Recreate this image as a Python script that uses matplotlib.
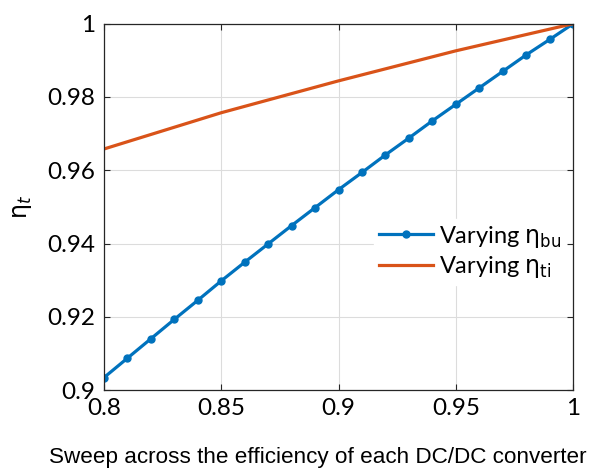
import numpy as np
import matplotlib
matplotlib.use("Agg")
import matplotlib.pyplot as plt

# ── Data ──────────────────────────────────────────────────────────────────────

eff_bu = [0.80, 0.81, 0.82, 0.83, 0.84, 0.85, 0.86, 0.87, 0.88, 0.89, 0.90,
          0.91, 0.92, 0.93, 0.94, 0.95, 0.96, 0.97, 0.98, 0.99, 1.00]
eta_t_bu = [0.9034, 0.9087, 0.9140, 0.9193, 0.9245, 0.9298, 0.9349, 0.9399,
            0.9449, 0.9498, 0.9547, 0.9594, 0.9642, 0.9688, 0.9735, 0.9780,
            0.9825, 0.9870, 0.9915, 0.9957, 1.0000]

eff_ti = [0.80, 0.85, 0.90, 0.95, 1.00]
eta_t_ti = [0.9658, 0.9757, 0.9844, 0.9926, 1.0000]

xticks = [0.8, 0.85, 0.9, 0.95, 1]
xticklabels = ["0.8", "0.85", "0.9", "0.95", "1"]
yticks = [0.9, 0.92, 0.94, 0.96, 0.98, 1]
yticklabels = ["0.9", "0.92", "0.94", "0.96", "0.98", "1"]

BLUE = "#0072BD"
ORANGE = "#D95319"

plt.rcParams.update({
    "font.family": ["Lato", "DejaVu Sans"],
    "mathtext.fontset": "dejavusans",
})

# ── Figure ────────────────────────────────────────────────────────────────────

fig = plt.figure(figsize=(6.04, 4.74), dpi=100)
ax = fig.add_axes([0.172, 0.177, 0.777, 0.773])

ax.plot(eff_bu, eta_t_bu, color=BLUE, linewidth=2.3, marker="o",
        markersize=5, label=r"Varying $\mathrm{\eta_{bu}}$")
ax.plot(eff_ti, eta_t_ti, color=ORANGE, linewidth=2.3,
        label=r"Varying $\mathrm{\eta_{ti}}$")

ax.set_xlim(0.8, 1.0)
ax.set_ylim(0.9, 1.0)
ax.set_xticks(xticks)
ax.set_xticklabels(xticklabels)
ax.set_yticks(yticks)
ax.set_yticklabels(yticklabels)

ax.grid(True, color="#dcdcdc", linewidth=0.8)
ax.set_axisbelow(True)
ax.tick_params(direction="in", length=4, width=0.8, colors="#262626",
               labelcolor="black", labelsize=17.5, top=True, right=True, pad=6)
for sp in ax.spines.values():
    sp.set_color("#262626")
    sp.set_linewidth(0.9)

ax.set_xlabel("Sweep across the efficiency of each DC/DC converter",
              family="Liberation Sans", fontsize=16.2, labelpad=20,
              x=0.456, ha="center")
ax.set_ylabel(r"$\mathrm{\eta}_t$", fontsize=17, labelpad=10)

leg = ax.legend(loc="center right", bbox_to_anchor=(1.0, 0.377),
                fontsize=17, frameon=True, framealpha=1.0,
                edgecolor="white", handlelength=2.3, handletextpad=0.25,
                labelspacing=0.2, borderpad=0.2, borderaxespad=0.3)

fig.savefig("out.png", dpi=100)
